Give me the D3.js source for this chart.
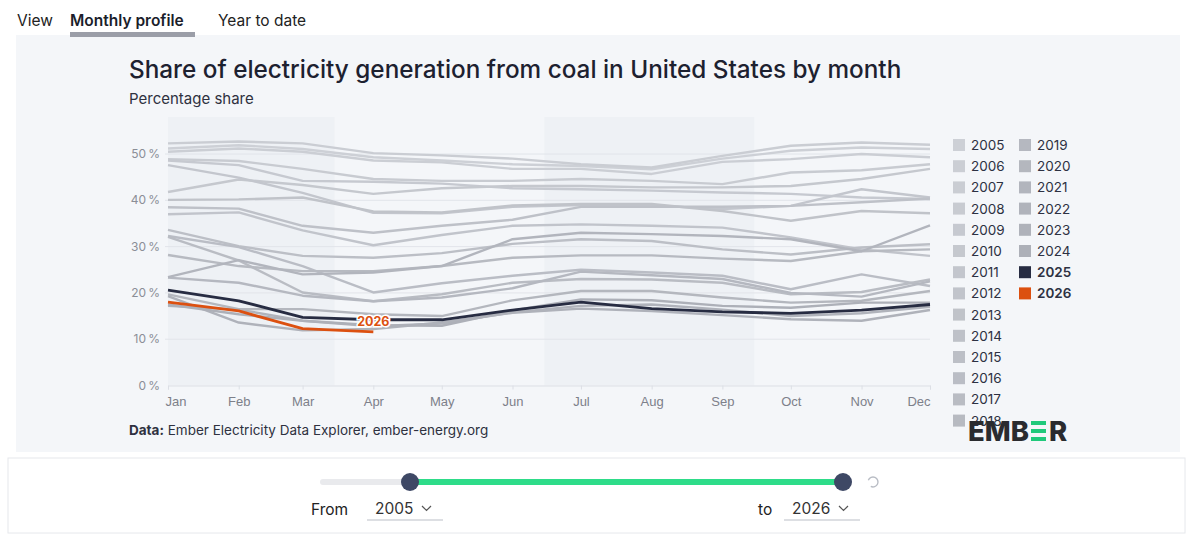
<!DOCTYPE html>
<html>
<head>
<meta charset="utf-8">
<script src="https://cdn.jsdelivr.net/npm/d3@7"></script>
<style>
  body { margin: 0; background: #fff; }
  svg { display: block; font-family: Inter, 'Noto Sans', sans-serif; }
</style>
</head>
<body>
<svg id="chart" width="1200" height="535"></svg>
<script>
// month labels + coal share (%) per year
const months = ['Jan', 'Feb', 'Mar', 'Apr', 'May', 'Jun', 'Jul', 'Aug', 'Sep', 'Oct', 'Nov', 'Dec'];
const yTicks = [0, 10, 20, 30, 40, 50];

const y2005 = [51.2, 51.9, 51.1, 49.3, 48.6, 47.8, 47.4, 46.7, 49.0, 50.7, 51.4, 51.1];
const y2006 = [50.5, 51.2, 50.5, 48.6, 48.2, 46.8, 46.8, 45.7, 48.3, 48.9, 50.0, 49.3];
const y2007 = [52.3, 52.7, 52.3, 50.2, 49.7, 49.0, 47.8, 47.1, 49.6, 51.8, 52.5, 52.0];
const y2008 = [48.9, 48.5, 46.8, 44.6, 44.2, 44.2, 44.6, 44.2, 43.5, 46.0, 46.5, 47.8];
const y2009 = [48.6, 47.6, 44.2, 44.0, 43.6, 42.6, 42.4, 42.1, 41.7, 41.4, 40.6, 40.3];
const y2010 = [41.8, 44.5, 43.3, 41.4, 42.6, 43.1, 43.1, 42.8, 42.8, 43.1, 44.6, 46.8];
const y2011 = [47.6, 44.9, 41.6, 37.3, 37.2, 38.6, 39.0, 38.9, 38.1, 38.8, 42.4, 40.6];
const y2012 = [37.0, 37.4, 33.5, 30.3, 32.5, 34.5, 34.8, 34.5, 34.1, 32.0, 29.4, 28.0];
const y2013 = [40.1, 40.2, 40.6, 37.6, 37.4, 38.9, 39.2, 39.2, 37.7, 35.6, 37.7, 37.2];
const y2014 = [38.5, 38.2, 34.5, 33.0, 34.5, 35.8, 38.6, 38.6, 38.6, 38.8, 39.6, 40.4];
const y2015 = [33.6, 30.1, 28.0, 27.6, 28.6, 30.6, 31.6, 31.2, 29.4, 28.3, 29.8, 30.5];
const y2016 = [32.3, 29.9, 25.8, 20.1, 22.1, 23.7, 25.0, 24.4, 23.7, 20.8, 24.0, 21.5];
const y2017 = [32.1, 27.0, 20.1, 18.2, 19.7, 22.2, 23.0, 22.9, 22.2, 19.7, 20.2, 22.9];
const y2018 = [28.2, 25.8, 24.7, 24.7, 25.8, 27.6, 28.1, 28.1, 27.4, 26.9, 29.0, 29.4];
const y2019 = [23.3, 22.2, 19.4, 18.2, 19.0, 21.0, 24.6, 23.8, 23.0, 20.0, 19.2, 22.5];
const y2020 = [19.7, 16.5, 16.5, 15.4, 15.0, 18.4, 20.4, 20.4, 19.0, 17.9, 18.3, 20.4];
const y2021 = [23.4, 27.1, 24.0, 24.4, 25.8, 31.6, 33.0, 32.7, 32.3, 31.6, 29.0, 34.6];
const y2022 = [17.2, 16.4, 14.0, 12.8, 13.4, 15.8, 17.2, 17.5, 16.4, 15.0, 15.6, 17.0];
const y2023 = [19.3, 13.6, 11.9, 12.2, 13.6, 15.7, 16.6, 16.1, 15.2, 14.3, 14.0, 16.3];
const y2024 = [17.5, 15.4, 14.0, 13.0, 12.9, 16.2, 18.6, 18.4, 17.2, 16.8, 17.9, 17.9];
const y2025 = [20.6, 18.3, 14.7, 14.2, 14.2, 16.3, 18.0, 16.6, 15.9, 15.6, 16.3, 17.5];
const y2026 = [18.0, 16.1, 12.3, 11.6];

const years = d3.range(2005, 2027);
const shares = [y2005, y2006, y2007, y2008, y2009, y2010, y2011, y2012, y2013, y2014, y2015,
  y2016, y2017, y2018, y2019, y2020, y2021, y2022, y2023, y2024, y2025, y2026];

const title = 'Share of electricity generation from coal in United States by month';
const subtitle = 'Percentage share';
const source = 'Ember Electricity Data Explorer, ember-energy.org';

const highlight = {2025: '#272c42', 2026: '#dc5010'};
const greys = d3.interpolateRgb('#cdd0d6', '#adb0b8');
const colorOf = yr => highlight[yr] || greys((yr - 2005) / 19);

const svg = d3.select('#chart');
const dates = months.map((m, i) => new Date(2021, i, 1));

const x = d3.scaleTime()
  .domain([dates[0], dates[11]])
  .range([168, 930]);
const y = d3.scaleLinear()
  .domain([0, 58])
  .range([385.5, 117]);

// top tabs
svg.append('text').attr('x', 17).attr('y', 26).attr('font-size', 15.5).attr('fill', '#222').text('View');
svg.append('text').attr('x', 70).attr('y', 26).attr('font-size', 15.5).attr('font-weight', 600)
  .attr('fill', '#1b1e2b').text('Monthly profile');
svg.append('text').attr('x', 218).attr('y', 26).attr('font-size', 15.5).attr('fill', '#222').text('Year to date');

// chart panel
svg.append('rect').attr('x', 16).attr('y', 35).attr('width', 1164).attr('height', 417).attr('fill', '#f4f6f9');
svg.append('rect').attr('x', 70).attr('y', 32).attr('width', 125).attr('height', 5).attr('fill', '#9b9ea8');

const titleText = svg.append('text')
  .attr('x', 129).attr('y', 78)
  .attr('font-size', 22).attr('font-weight', 500).attr('fill', '#1d2130')
  .text(title);
// fit the title to the width it takes in the original
titleText.attr('font-size', 22 * 773 / titleText.node().getComputedTextLength());

svg.append('text').attr('x', 129).attr('y', 104).attr('font-size', 15).attr('fill', '#2e3140').text(subtitle);

// seasonal shading
const bands = [[new Date(2021, 0, 1), new Date(2021, 2, 15)], [new Date(2021, 5, 15), new Date(2021, 8, 15)]];
svg.append('g').selectAll('rect')
  .data(bands)
  .enter().append('rect')
    .attr('x', d => x(d[0]))
    .attr('width', d => x(d[1]) - x(d[0]))
    .attr('y', y(58))
    .attr('height', y(0) - y(58))
    .attr('fill', '#eef1f5');

// grid + y labels
const grid = svg.append('g');
grid.selectAll('line')
  .data(yTicks.filter(d => d > 0))
  .enter().append('line')
    .attr('x1', 165).attr('x2', 930)
    .attr('y1', d => y(d)).attr('y2', d => y(d))
    .attr('stroke', '#e2e5ea');
grid.selectAll('text')
  .data(yTicks)
  .enter().append('text')
    .attr('x', 160).attr('y', d => y(d) + 4)
    .attr('text-anchor', 'end')
    .attr('font-size', 12).attr('fill', '#8b8e97')
    .text(d => d + '\u2009%');

// x axis
const xAxis = svg.append('g')
  .attr('transform', `translate(0,${y(0)})`)
  .call(d3.axisBottom(x).tickValues(dates).tickSize(4).tickPadding(7).tickFormat((d, i) => months[i]));
xAxis.select('.domain').attr('stroke', '#dcdfe5');
xAxis.selectAll('.tick line').attr('stroke', '#dcdfe5');
xAxis.selectAll('.tick text').attr('font-size', 13).attr('fill', '#7d808a').attr('font-family', null);
xAxis.selectAll('.tick text').filter((d, i) => i === 0).attr('text-anchor', 'start').attr('dx', -3);
xAxis.selectAll('.tick text').filter((d, i) => i === 11).attr('text-anchor', 'end');

// lines
const line = d3.line()
  .x((d, i) => x(dates[i]))
  .y(d => y(d));

svg.append('g').selectAll('path')
  .data(years.map((yr, i) => ({year: yr, values: shares[i]})))
  .enter().append('path')
    .attr('d', d => line(d.values))
    .attr('fill', 'none')
    .attr('stroke', d => colorOf(d.year))
    .attr('stroke-width', d => d.year >= 2025 ? 2.8 : 2.4)
    .attr('stroke-linejoin', 'round');

const last = y2026.length - 1;
svg.append('text')
  .attr('x', x(dates[last]))
  .attr('y', y(y2026[last]) - 6)
  .attr('text-anchor', 'middle')
  .attr('font-size', 12.5).attr('font-weight', 700)
  .attr('fill', highlight[2026])
  .attr('stroke', '#fff').attr('stroke-width', 3).attr('paint-order', 'stroke')
  .text('2026');

// legend
const legend = svg.append('g').selectAll('g')
  .data(years)
  .enter().append('g')
    .attr('transform', (d, i) => `translate(${i < 14 ? 953 : 1019},${145 + (i < 14 ? i : i - 14) * 21.2})`);
legend.append('rect')
  .attr('y', -6).attr('width', 12).attr('height', 12)
  .attr('fill', d => colorOf(d));
legend.append('text')
  .attr('x', 18).attr('y', 5)
  .attr('font-size', 13.5)
  .attr('font-weight', d => d >= 2025 ? 600 : 400)
  .attr('fill', '#2d3142')
  .text(d => d);

// source
const src = svg.append('text').attr('x', 129).attr('y', 435).attr('font-size', 13.5).attr('fill', '#2e3140');
src.append('tspan').attr('font-weight', 700).text('Data:');
src.append('tspan').text(' ' + source);

// EMBER logo
const logo = svg.append('g').attr('transform', 'translate(968,441)');
const emb = logo.append('text').attr('font-size', 27.5).attr('font-weight', 800).attr('fill', '#2a2b2f').text('EMB');
const w = emb.node().getComputedTextLength();
logo.selectAll('rect')
  .data([0, 1, 2])
  .enter().append('rect')
    .attr('x', w + 2).attr('y', d => -20 + d * 8)
    .attr('width', 15).attr('height', 4)
    .attr('fill', '#20c97b');
logo.append('text').attr('x', w + 20).attr('font-size', 27.5).attr('font-weight', 800).attr('fill', '#2a2b2f').text('R');

// year range control
svg.append('rect').attr('x', 8).attr('y', 458).attr('width', 1177).attr('height', 75)
  .attr('fill', '#fff').attr('stroke', '#e6e8ec');
svg.append('rect').attr('x', 320).attr('y', 479).attr('width', 523).attr('height', 6).attr('rx', 3).attr('fill', '#e9eaed');
svg.append('rect').attr('x', 410).attr('y', 479).attr('width', 433).attr('height', 6).attr('fill', '#2edc89');
svg.selectAll('circle.knob')
  .data([410, 843])
  .enter().append('circle')
    .attr('class', 'knob')
    .attr('cx', d => d).attr('cy', 482).attr('r', 9)
    .attr('fill', '#3e4865');
svg.append('path')
  .attr('d', d3.arc()({innerRadius: 5, outerRadius: 5, startAngle: -1.2, endAngle: 3.6}))
  .attr('transform', 'translate(873,482)')
  .attr('fill', 'none').attr('stroke', '#b8bcc4').attr('stroke-width', 1.4);

const picks = [{label: 'From', lx: 311, vx: 375, value: 2005}, {label: 'to', lx: 758, vx: 792, value: 2026}];
const pick = svg.append('g').selectAll('g')
  .data(picks)
  .enter().append('g');
pick.append('text').attr('x', d => d.lx).attr('y', 515).attr('font-size', 15.5).attr('fill', '#222').text(d => d.label);
pick.append('text').attr('x', d => d.vx).attr('y', 514).attr('font-size', 15.5).attr('fill', '#333').text(d => d.value);
pick.append('path')
  .attr('d', d => `M${d.vx + 47},506 l4.5,4.5 l4.5,-4.5`)
  .attr('fill', 'none').attr('stroke', '#555').attr('stroke-width', 1.2);
pick.append('line')
  .attr('x1', d => d.vx - 8).attr('x2', d => d.vx + 68)
  .attr('y1', 520).attr('y2', 520)
  .attr('stroke', '#d2d5da').attr('stroke-width', 1.5);
</script>
</body>
</html>
